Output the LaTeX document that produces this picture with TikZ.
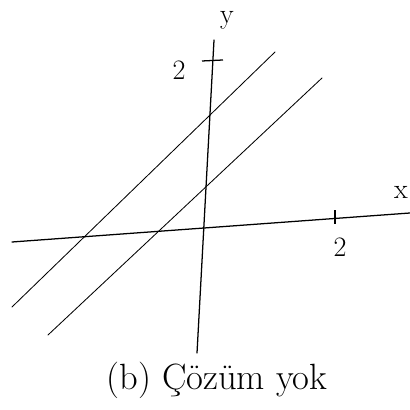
\documentclass[tikz,border=0pt]{standalone}
\usepackage{tikz}
\usetikzlibrary{calc}
\tikzset{
  axis/.style={line width=0.9pt, line cap=round},
  graphline/.style={line width=0.6pt, line cap=round},
  tickmark/.style={line width=0.9pt},
  handlabel/.style={font=\fontsize{20}{22}\selectfont, inner sep=0pt},
}

\begin{document}
\begin{tikzpicture}[x=0.25mm, y=0.25mm]
  \useasboundingbox (0,0) rectangle (410,410);
  % axes
  \coordinate (xl) at (12,168);
  \coordinate (xr) at (410,197);
  \coordinate (yb) at (197,57);
  \coordinate (yt) at (214,370);
  \draw[axis] (xl) -- (xr);
  \draw[axis] (yb) -- (yt);
  \node[handlabel] (xlab) at (401,218) {x};
  \node[handlabel] (ylab) at (227,390) {y};
  % ticks
  \coordinate (xt1) at (335,186);
  \coordinate (xt2) at (335,200);
  \draw[tickmark] (xt1) -- (xt2);
  \node[handlabel] (xtwo) at (340,163) {2};
  \coordinate (yt1) at (202,349);
  \coordinate (yt2) at (223,350);
  \draw[tickmark] (yt1) -- (yt2);
  \node[handlabel] (ytwo) at (179,340) {2};
  % the two parallel lines
  \coordinate (aone) at (12,103);
  \coordinate (bone) at (275,358);
  \draw[graphline] (aone) -- (bone);
  \coordinate (atwo) at (48,75);
  \coordinate (btwo) at (322,332);
  \draw[graphline] (atwo) -- (btwo);
  % caption
  \node[font=\fontsize{26}{28}\selectfont, inner sep=0pt] (caption) at (217,30) {(b) Çözüm yok};
\end{tikzpicture}
\end{document}
